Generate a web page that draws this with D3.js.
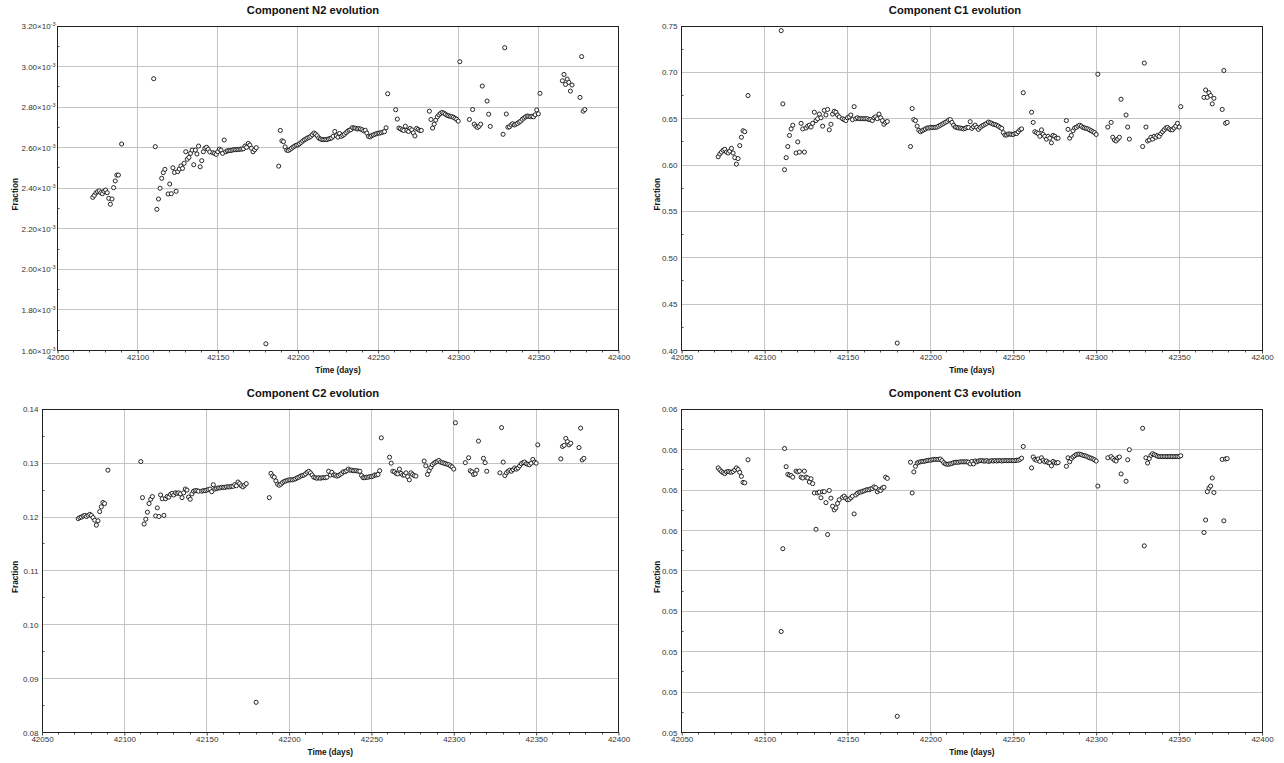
<!DOCTYPE html>
<html><head><meta charset="utf-8">
<script src="https://cdn.jsdelivr.net/npm/d3@7/dist/d3.min.js"></script>
<style>body{margin:0;background:#fff}svg{display:block}</style>
</head><body>
<svg id="chart" width="1284" height="763"></svg>
<script>
// ---------------- DATA ----------------
const days = [
  42072,42073,42074,42075,42076,42077,42078,42079,42080,42081,42082,42083,42084,42085,42086,42087,42088,42090,
  42110,42111,42112,42113,42114,42115,42116,42117,42119,42120,42121,42122,42123,42124,42125,42126,42127,42128,42129,42130,42131,42132,42133,42134,42135,42136,42137,42138,42139,42140,42141,42142,42143,42144,42145,42147,42148,42149,42150,42151,42152,42153,42154,42155,42156,42157,42158,42159,42160,42161,42162,42163,42164,42165,42166,42167,42168,42169,42170,42171,42172,42173,42174,
  42180,
  42188,42189,42190,42191,42192,42193,42194,42195,42196,42197,42198,42199,42200,42201,42202,42203,42204,42205,42206,42207,42208,42209,42210,42211,42212,42213,42214,42215,42216,42217,42218,42219,42220,42221,42222,42223,42224,42225,42226,42227,42228,42229,42230,42231,42232,42233,42234,42235,42236,42237,42238,42239,42240,42241,42242,42243,42244,42245,42246,42247,42248,42249,42250,42251,42252,42253,42254,42255,42256,
  42261,42262,42263,42264,42265,42266,42267,42268,42269,42270,42271,42272,42273,42274,42275,42276,42277,
  42282,42283,42284,42285,42286,42287,42288,42289,42290,42291,42292,42293,42294,42295,42296,42297,42298,42299,42300,42301,
  42307,42309,42310,42311,42312,42313,42314,42315,42318,42319,42320,
  42328,42329,42330,42331,42332,42333,42334,42335,42336,42337,42338,42339,42340,42341,42342,42343,42344,42345,42346,42347,42348,42349,42350,42351,
  42365,42366,42367,42368,42369,42370,42371,42376,42377,42378,42379
];

// N2 fraction in units of 10^-3
const n2 = [
  2.355,2.365,2.377,2.383,2.387,2.378,2.373,2.385,2.391,2.378,2.350,2.321,2.347,2.403,2.436,2.465,2.465,2.618,
  2.940,2.605,2.296,2.347,2.400,2.449,2.477,2.493,2.372,2.421,2.373,2.501,2.478,2.385,2.482,2.495,2.510,2.498,2.523,2.580,2.543,2.552,2.572,2.588,2.516,2.588,2.569,2.608,2.506,2.536,2.580,2.597,2.602,2.592,2.579,2.575,2.572,2.567,2.580,2.593,2.588,2.572,2.638,2.580,2.585,2.585,2.586,2.588,2.590,2.590,2.591,2.591,2.593,2.593,2.595,2.608,2.602,2.621,2.613,2.597,2.580,2.590,2.600,
  1.633,
  2.509,2.685,2.634,2.630,2.604,2.588,2.586,2.591,2.597,2.603,2.608,2.612,2.614,2.619,2.626,2.633,2.639,2.643,2.648,2.651,2.656,2.664,2.672,2.667,2.659,2.648,2.643,2.640,2.640,2.640,2.640,2.643,2.645,2.648,2.656,2.680,2.659,2.652,2.670,2.656,2.661,2.666,2.674,2.681,2.686,2.689,2.699,2.697,2.696,2.692,2.694,2.692,2.689,2.683,2.686,2.672,2.656,2.653,2.659,2.663,2.666,2.669,2.672,2.672,2.674,2.677,2.679,2.698,2.866,
  2.787,2.741,2.697,2.693,2.688,2.685,2.706,2.685,2.680,2.695,2.688,2.673,2.658,2.695,2.690,2.685,2.685,
  2.780,2.739,2.697,2.716,2.736,2.752,2.762,2.769,2.774,2.770,2.765,2.760,2.757,2.755,2.753,2.750,2.745,2.740,2.731,3.024,
  2.739,2.788,2.716,2.706,2.700,2.705,2.716,2.904,2.830,2.765,2.705,
  2.666,3.093,2.766,2.701,2.703,2.712,2.718,2.712,2.716,2.720,2.726,2.731,2.740,2.746,2.752,2.756,2.755,2.753,2.755,2.752,2.762,2.786,2.767,2.868,
  2.930,2.961,2.912,2.938,2.922,2.879,2.909,2.848,3.049,2.780,2.788
];

const c1 = [
  0.609,0.612,0.614,0.616,0.617,0.614,0.613,0.615,0.618,0.613,0.608,0.601,0.607,0.621,0.630,0.637,0.636,0.675,
  0.745,0.666,0.595,0.608,0.620,0.632,0.639,0.643,0.613,0.625,0.614,0.645,0.639,0.614,0.640,0.642,0.643,0.641,0.645,0.657,0.648,0.650,0.655,0.651,0.642,0.659,0.654,0.660,0.638,0.644,0.655,0.658,0.657,0.654,0.652,0.650,0.649,0.648,0.651,0.652,0.654,0.649,0.663,0.650,0.651,0.650,0.650,0.650,0.650,0.650,0.650,0.649,0.649,0.648,0.651,0.652,0.650,0.655,0.651,0.648,0.644,0.646,0.647,
  0.408,
  0.620,0.661,0.649,0.648,0.642,0.6375,0.636,0.637,0.638,0.639,0.640,0.640,0.6406,0.6406,0.6406,0.6406,0.641,0.642,0.643,0.644,0.645,0.646,0.647,0.6486,0.649,0.646,0.643,0.641,0.6406,0.640,0.640,0.6396,0.639,0.6396,0.6406,0.6406,0.6468,0.6396,0.6414,0.643,0.6406,0.6385,0.6406,0.642,0.643,0.644,0.645,0.6464,0.6457,0.645,0.644,0.6436,0.643,0.642,0.6406,0.6396,0.635,0.6324,0.6324,0.6335,0.6335,0.633,0.633,0.634,0.634,0.636,0.638,0.639,0.678,
  0.657,0.646,0.636,0.635,0.634,0.631,0.638,0.633,0.631,0.628,0.631,0.629,0.624,0.632,0.631,0.629,0.629,
  0.648,0.6385,0.629,0.632,0.637,0.640,0.6406,0.642,0.643,0.642,0.6406,0.640,0.6396,0.639,0.638,0.637,0.636,0.635,0.633,0.698,
  0.641,0.646,0.630,0.627,0.626,0.628,0.630,0.671,0.654,0.641,0.628,
  0.620,0.710,0.641,0.626,0.627,0.630,0.628,0.631,0.630,0.632,0.631,0.634,0.636,0.638,0.640,0.6406,0.639,0.638,0.638,0.640,0.642,0.645,0.641,0.663,
  0.673,0.681,0.673,0.678,0.675,0.666,0.672,0.660,0.702,0.645,0.646
];

const c2 = [
  0.1197,0.1199,0.1200,0.1202,0.1203,0.1201,0.1203,0.1205,0.1203,0.1199,0.1194,0.1185,0.1193,0.1210,0.1219,0.1227,0.1225,0.1287,
  0.1303,0.1236,0.1187,0.1196,0.1209,0.1225,0.1233,0.1238,0.1202,0.1217,0.1201,0.1241,0.1234,0.1203,0.1234,0.1238,0.1237,0.1242,0.1244,0.1241,0.1245,0.1244,0.1245,0.1243,0.1236,0.1245,0.1252,0.1250,0.1237,0.1233,0.1243,0.1248,0.1249,0.1249,0.1248,0.1248,0.1249,0.1249,0.1250,0.1251,0.1252,0.1247,0.1260,0.1252,0.1253,0.1254,0.1254,0.1255,0.1255,0.1255,0.1256,0.1256,0.1256,0.1257,0.1257,0.1260,0.1258,0.1265,0.1262,0.1258,0.1256,0.1259,0.1262,
  0.0856,
  0.1236,0.1281,0.1276,0.1274,0.1267,0.1261,0.1259,0.1261,0.1264,0.1266,0.1267,0.1268,0.1269,0.1269,0.1269,0.1270,0.1271,0.1273,0.1274,0.1276,0.1277,0.1278,0.1280,0.1283,0.1285,0.1282,0.1278,0.1274,0.1273,0.1272,0.1273,0.1272,0.1273,0.1273,0.1273,0.1274,0.1285,0.1278,0.1283,0.1278,0.1278,0.1276,0.1277,0.1279,0.1281,0.1284,0.1284,0.1286,0.1289,0.1287,0.1287,0.1286,0.1286,0.1286,0.1285,0.1285,0.1277,0.1273,0.1273,0.1274,0.1274,0.1275,0.1275,0.1276,0.1278,0.1278,0.1279,0.1286,0.1347,
  0.1311,0.1300,0.1285,0.1284,0.1281,0.1280,0.1289,0.1281,0.1278,0.1278,0.1282,0.1275,0.1269,0.1282,0.1279,0.1277,0.1276,
  0.1304,0.1295,0.1279,0.1286,0.1292,0.1297,0.1300,0.1302,0.1303,0.1305,0.1302,0.1301,0.1300,0.1299,0.1298,0.1297,0.1295,0.1293,0.1289,0.1375,
  0.1301,0.1310,0.1286,0.1284,0.1279,0.1280,0.1287,0.1341,0.1309,0.1301,0.1285,
  0.1282,0.1366,0.1302,0.1277,0.1282,0.1285,0.1287,0.1285,0.1288,0.1291,0.1289,0.1291,0.1295,0.1299,0.1301,0.1302,0.1299,0.1298,0.1297,0.1300,0.1307,0.1302,0.1300,0.1334,
  0.1308,0.1331,0.1333,0.1346,0.1340,0.1334,0.1337,0.1329,0.1365,0.1306,0.1309
];

const c3 = [
  0.05655,0.05650,0.05646,0.05643,0.05641,0.05645,0.05646,0.05645,0.05644,0.05646,0.05650,0.05655,0.05651,0.05644,0.05634,0.05619,0.05618,0.05675,
  0.05250,0.05455,0.05703,0.05658,0.05639,0.05637,0.05636,0.05632,0.05647,0.05645,0.05647,0.05632,0.05630,0.05647,0.05632,0.05630,0.05620,0.05628,0.05616,0.05593,0.05503,0.05593,0.05595,0.05581,0.05596,0.05596,0.05569,0.05490,0.05599,0.05580,0.05560,0.05551,0.05556,0.05567,0.05576,0.05582,0.05585,0.05580,0.05576,0.05577,0.05581,0.05585,0.05541,0.05588,0.05592,0.05595,0.05595,0.05597,0.05598,0.05600,0.05601,0.05601,0.05603,0.05604,0.05608,0.05606,0.05596,0.05601,0.05599,0.05605,0.05607,0.05632,0.05629,
  0.05040,
  0.05669,0.05593,0.05645,0.05659,0.05667,0.05669,0.05670,0.05671,0.05671,0.05672,0.05673,0.05674,0.05674,0.05675,0.05676,0.05676,0.05676,0.05676,0.05677,0.05673,0.05668,0.05665,0.05664,0.05664,0.05665,0.05666,0.05668,0.05669,0.05669,0.05669,0.05670,0.05670,0.05670,0.05670,0.05670,0.05669,0.05665,0.05671,0.05665,0.05672,0.05670,0.05672,0.05673,0.05673,0.05672,0.05672,0.05673,0.05671,0.05672,0.05673,0.05672,0.05673,0.05672,0.05673,0.05673,0.05672,0.05673,0.05673,0.05673,0.05673,0.05673,0.05673,0.05673,0.05673,0.05674,0.05674,0.05676,0.05679,0.05708,
  0.05655,0.05682,0.05676,0.05674,0.05677,0.05671,0.05680,0.05674,0.05670,0.05672,0.05668,0.05667,0.05660,0.05671,0.05668,0.05667,0.05668,
  0.05659,0.05680,0.05670,0.05678,0.05682,0.05685,0.05688,0.05689,0.05689,0.05688,0.05686,0.05685,0.05684,0.05682,0.05680,0.05679,0.05677,0.05675,0.05672,0.05610,
  0.05680,0.05683,0.05678,0.05674,0.05672,0.05680,0.05682,0.05640,0.05622,0.05675,0.05700,
  0.05753,0.05462,0.05680,0.05667,0.05678,0.05686,0.05690,0.05688,0.05686,0.05684,0.05683,0.05683,0.05683,0.05683,0.05683,0.05683,0.05683,0.05683,0.05683,0.05683,0.05683,0.05683,0.05683,0.05685,
  0.05495,0.05526,0.05596,0.05605,0.05610,0.05630,0.05594,0.05676,0.05524,0.05677,0.05678
];

const xTicks = [42050, 42100, 42150, 42200, 42250, 42300, 42350, 42400];
const n2Ticks = [1.6, 1.8, 2.0, 2.2, 2.4, 2.6, 2.8, 3.0, 3.2];
const n2TickLabels = ["1.60", "1.80", "2.00", "2.20", "2.40", "2.60", "2.80", "3.00", "3.20"];
const n2Exponent = "-3";
const c1Ticks = [0.40, 0.45, 0.50, 0.55, 0.60, 0.65, 0.70, 0.75];
const c1TickLabels = ["0.40", "0.45", "0.50", "0.55", "0.60", "0.65", "0.70", "0.75"];
const c2Ticks = [0.08, 0.09, 0.10, 0.11, 0.12, 0.13, 0.14];
const c2TickLabels = ["0.08", "0.09", "0.10", "0.11", "0.12", "0.13", "0.14"];
const c3Ticks = [0.050, 0.051, 0.052, 0.053, 0.054, 0.055, 0.056, 0.057, 0.058];
const c3TickLabels = ["0.05", "0.05", "0.05", "0.05", "0.05", "0.06", "0.06", "0.06", "0.06"];

const titles = ["Component N2 evolution", "Component C1 evolution", "Component C2 evolution", "Component C3 evolution"];
const xLabel = "Time (days)";
const yLabel = "Fraction";

// ---------------- LAYOUT ----------------
const FONT = "'Liberation Sans', Arial, Helvetica, sans-serif";
const panels = [
  {title: titles[0], values: n2, ticks: n2Ticks, labels: n2TickLabels, exp: n2Exponent,
   x0: 57.5, x1: 618.5, y0: 26, y1: 350.5, left: 0, titleX: 313, titleY: 14},
  {title: titles[1], values: c1, ticks: c1Ticks, labels: c1TickLabels,
   x0: 681.7, x1: 1262, y0: 26, y1: 350.5, left: 642, titleX: 955, titleY: 14},
  {title: titles[2], values: c2, ticks: c2Ticks, labels: c2TickLabels,
   x0: 42, x1: 618.5, y0: 409.3, y1: 732.5, left: 0, titleX: 313, titleY: 397},
  {title: titles[3], values: c3, ticks: c3Ticks, labels: c3TickLabels,
   x0: 681.7, x1: 1262, y0: 409.3, y1: 732.5, left: 642, titleX: 955, titleY: 397}
];

const svg = d3.select("#chart");
svg.append("rect").attr("width", 1284).attr("height", 763).attr("fill", "#fff");
const crisp = v => Math.round(v - 0.5) + 0.5;

panels.forEach(p => {
  const x = d3.scaleLinear().domain([xTicks[0], xTicks[xTicks.length - 1]]).range([p.x0, p.x1]);
  const y = d3.scaleLinear().domain([p.ticks[0], p.ticks[p.ticks.length - 1]]).range([p.y1, p.y0]);
  const g = svg.append("g");
  const X0 = crisp(p.x0), X1 = crisp(p.x1), Y0 = crisp(p.y0), Y1 = crisp(p.y1);

  // grid
  g.append("g").selectAll("line").data(xTicks.slice(1, -1)).join("line")
    .attr("x1", d => crisp(x(d))).attr("x2", d => crisp(x(d)))
    .attr("y1", Y0).attr("y2", Y1)
    .attr("stroke", "#c4c4c4").attr("stroke-width", 1);
  g.append("g").selectAll("line").data(p.ticks.slice(1, -1)).join("line")
    .attr("y1", d => crisp(y(d))).attr("y2", d => crisp(y(d)))
    .attr("x1", X0).attr("x2", X1)
    .attr("stroke", "#c4c4c4").attr("stroke-width", 1);

  // minor ticks x (every 10 days, outward)
  const xMinor = d3.range(xTicks[0] + 10, xTicks[xTicks.length - 1], 10).filter(d => (d - xTicks[0]) % 50 !== 0);
  g.append("g").selectAll("line").data(xMinor).join("line")
    .attr("x1", d => crisp(x(d))).attr("x2", d => crisp(x(d)))
    .attr("y1", Y1).attr("y2", Y1 + 2)
    .attr("stroke", "#555").attr("stroke-width", 1);
  // minor ticks y (midpoints, inward)
  const yMinor = d3.pairs(p.ticks).map(([a, b]) => (a + b) / 2);
  g.append("g").selectAll("line").data(yMinor).join("line")
    .attr("y1", d => crisp(y(d))).attr("y2", d => crisp(y(d)))
    .attr("x1", X0).attr("x2", X0 + 2)
    .attr("stroke", "#555").attr("stroke-width", 1);

  // frame
  g.append("rect").attr("x", X0).attr("y", Y0).attr("width", X1 - X0).attr("height", Y1 - Y0)
    .attr("fill", "none").attr("stroke", "#222").attr("stroke-width", 1);

  // x axis
  const xa = d3.axisBottom(x).tickValues(xTicks).tickSize(3).tickSizeOuter(0).tickPadding(1)
    .tickFormat(d3.format("d"));
  const gx = g.append("g").attr("transform", `translate(0,${Y1})`).call(xa);
  gx.select(".domain").remove();
  gx.selectAll("line").attr("stroke", "#444");
  gx.selectAll("text").attr("font-family", FONT).attr("font-size", 8).attr("fill", "#333");

  // y axis
  const ya = d3.axisLeft(y).tickValues(p.ticks).tickSize(0).tickSizeOuter(0)
    .tickPadding(p.exp ? 2 : 4)
    .tickFormat((d, i) => p.exp ? p.labels[i] + "×10" : p.labels[i]);
  const gy = g.append("g").attr("transform", `translate(${X0},0)`).call(ya);
  gy.select(".domain").remove();
  gy.selectAll("text").attr("font-family", FONT).attr("font-size", 8).attr("fill", "#333");
  if (p.exp) {
    gy.selectAll("text").append("tspan").attr("font-size", 5.5).attr("dy", "-0.55em").text(p.exp);
  }

  // points
  const pts = days.map((d, i) => ({d, v: p.values[i]})).filter(o => o.v !== undefined);
  g.append("g").selectAll("circle").data(pts).join("circle")
    .attr("cx", o => x(o.d)).attr("cy", o => y(o.v))
    .attr("r", 2.05).attr("fill", "#fff").attr("stroke", "#111").attr("stroke-width", 0.9);

  // title and labels
  g.append("text").attr("x", p.titleX).attr("y", p.titleY).attr("text-anchor", "middle")
    .attr("font-family", FONT).attr("font-weight", "bold").attr("font-size", 11.2).attr("fill", "#111")
    .text(p.title);
  g.append("text").attr("x", (p.x0 + p.x1) / 2).attr("y", p.y1 + 22).attr("text-anchor", "middle")
    .attr("font-family", FONT).attr("font-weight", "bold").attr("font-size", 8.2).attr("fill", "#111")
    .text(xLabel);
  const fy = (p.y0 + p.y1) / 2 + 6;
  g.append("text").attr("transform", `translate(${p.left + 18},${fy}) rotate(-90)`).attr("text-anchor", "middle")
    .attr("font-family", FONT).attr("font-weight", "bold").attr("font-size", 8.2).attr("fill", "#111")
    .text(yLabel);
});
</script>
</body></html>
